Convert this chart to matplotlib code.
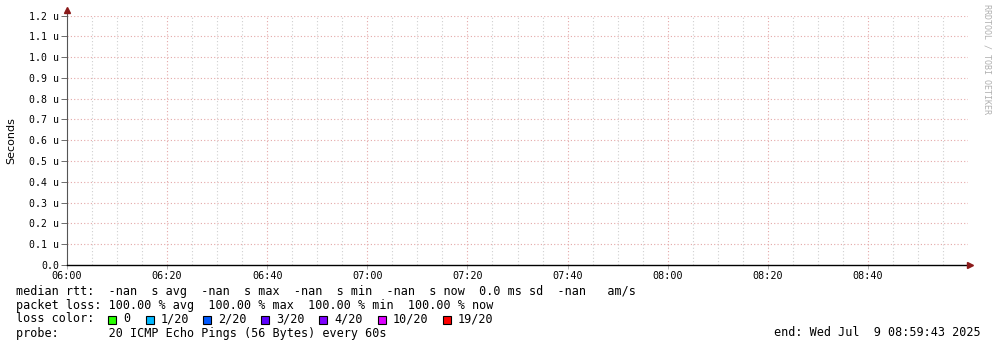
import matplotlib
matplotlib.use('Agg')
import matplotlib.pyplot as plt
from matplotlib.patches import Rectangle
from matplotlib.lines import Line2D

# 数据（全部为空，SmokePing 无响应）
x_tick_minutes = [0, 20, 40, 60, 80, 100, 120, 140, 160]
x_tick_labels = ['06:00', '06:20', '06:40', '07:00', '07:20', '07:40', '08:00', '08:20', '08:40']
x_range = [0, 180]
y_ticks = [0.0, 0.1, 0.2, 0.3, 0.4, 0.5, 0.6, 0.7, 0.8, 0.9, 1.0, 1.1, 1.2]
y_max = 1.2

legend_lines = [
    'median rtt:  -nan  s avg  -nan  s max  -nan  s min  -nan  s now  0.0 ms sd  -nan   am/s',
    'packet loss: 100.00 % avg  100.00 % max  100.00 % min  100.00 % now',
    'loss color:',
    'probe:       20 ICMP Echo Pings (56 Bytes) every 60s',
]
loss_labels = ['0', '1/20', '2/20', '3/20', '4/20', '10/20', '19/20']
loss_colors = ['#26ff00', '#00b8ff', '#0059ff', '#5e00ff', '#7e00ff', '#dd00ff', '#ff0000']
end_text = 'end: Wed Jul  9 08:59:43 2025'

W, H = 997, 347
fig = plt.figure(figsize=(W / 100, H / 100), dpi=100)
fig.patch.set_facecolor('white')


def fx(px):
    return px / W


def fy(py):
    return 1 - py / H


px_left, px_right, px_top, px_bottom = 67, 968, 15.5, 265
ax = fig.add_axes([fx(px_left), fy(px_bottom), (px_right - px_left) / W, (px_bottom - px_top) / H])
ax.set_xlim(*x_range)
ax.set_ylim(0, y_max)

mono = 'DejaVu Sans Mono'

# 网格：次网格每 5 分钟灰色，主网格每 20 分钟及每 0.1u 红色
for m in range(5, 180, 5):
    if m % 20 == 0:
        ax.axvline(m, color='#e4a8a8', lw=0.8, ls=(0, (1, 2)), zorder=1)
    else:
        ax.axvline(m, color='#d0d0d0', lw=0.8, ls=(0, (1, 2)), zorder=1)
for v in y_ticks[1:]:
    ax.axhline(v, color='#e4a8a8', lw=0.8, ls=(0, (1, 2)), zorder=1)

for s in ['top', 'right']:
    ax.spines[s].set_visible(False)
ax.spines['left'].set_color('#555555')
ax.spines['bottom'].set_color('black')
ax.spines['left'].set_linewidth(0.8)
ax.spines['bottom'].set_linewidth(1.0)

ax.set_xticks(x_tick_minutes)
ax.set_xticklabels(x_tick_labels, fontfamily=mono, fontsize=7.3)
ax.set_yticks(y_ticks)
ax.set_yticklabels([('%.1f u' % v) if v > 0 else '0.0' for v in y_ticks],
                   fontfamily=mono, fontsize=7.1)
ax.tick_params(axis='y', length=4, width=0.6, color='#555555', pad=1.5)
ax.tick_params(axis='x', length=3, width=0.6, color='#aaaaaa', pad=1)

# 坐标轴箭头
fig.lines.append(Line2D([fx(67), fx(67)], [fy(15.5), fy(11)], color='#555555', lw=0.8,
                        transform=fig.transFigure, figure=fig))
fig.lines.append(Line2D([fx(67)], [fy(10)], marker='^', color='#8b1a1a', ms=4,
                        transform=fig.transFigure, figure=fig))
fig.lines.append(Line2D([fx(970)], [fy(265)], marker='>', color='#8b1a1a', ms=4,
                        transform=fig.transFigure, figure=fig))

ax.set_ylabel('Seconds', fontsize=8, fontfamily='DejaVu Sans')
ax.yaxis.set_label_coords(-51 / (px_right - px_left), 0.5)

fig.text(fx(987), fy(4), 'RRDTOOL / TOBI OETIKER', rotation=-90, fontsize=6,
         fontfamily=mono, color='#b0b0b0', ha='center', va='top')

# 图例文字
fs = 8.5
row_y = [291.5, 305, 319, 333]
for line, y in zip(legend_lines, row_y):
    fig.text(fx(16), fy(y), line, fontfamily=mono, fontsize=fs, va='center', ha='left')

box_x = [108, 145.5, 203, 261, 319, 377.5, 442.5]
for lbl, col, bx in zip(loss_labels, loss_colors, box_x):
    fig.patches.append(Rectangle((fx(bx), fy(323.5)), 8 / W, 8 / H, transform=fig.transFigure,
                                 facecolor=col, edgecolor='black', lw=0.8, figure=fig))
    fig.text(fx(bx + 15), fy(319), lbl, fontfamily=mono, fontsize=fs, va='center', ha='left')

fig.text(fx(981), fy(333), end_text, fontfamily=mono, fontsize=fs, va='center', ha='right')

fig.savefig('out.png', dpi=100, facecolor='white')
